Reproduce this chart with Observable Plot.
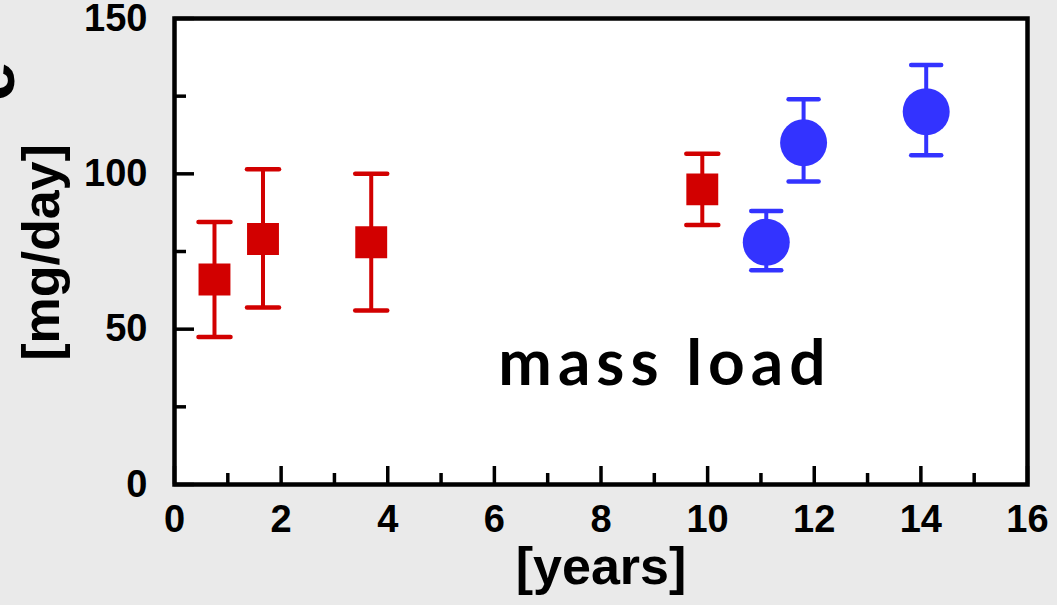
<!DOCTYPE html>
<html><head><meta charset="utf-8">
<script src="https://cdn.jsdelivr.net/npm/d3@7"></script>
<script src="https://cdn.jsdelivr.net/npm/@observablehq/plot@0.6"></script>
<style>html,body{margin:0;padding:0;background:#eaeaea;overflow:hidden;} #chart svg{display:block;} g[font-size="64"]{letter-spacing:6px;}</style>
</head><body><div id="chart"></div>
<script>
// Red series (squares)
const redYears = [0.75, 1.66, 3.69, 9.9];
const redValues = [66, 79, 78, 95];
const redLow = [47.5, 57, 56, 83.5];
const redHigh = [84.5, 101.5, 100, 106.5];
// Blue series (circles)
const blueYears = [11.1, 11.8, 14.1];
const blueValues = [78, 110, 120];
const blueLow = [69, 97.5, 106];
const blueHigh = [88, 124, 135];
// Axes
const xMajorTicks = [0, 2, 4, 6, 8, 10, 12, 14, 16];
const xMinorTicks = [1, 3, 5, 7, 9, 11, 13, 15];
const yMajorTicks = [0, 50, 100, 150];
const yMinorTicks = [25, 75, 125];
const xTitle = "[years]";
const yTitle = "[mg/day]";
const yTitleCut = "e";
const annotationText = ["mass load"];
const annotationX = [9.2];
const annotationY = [38.5];

const RED = "#d20000";
const BLUE = "#3333ff";
const FONT = "'Liberation Sans', Arial, sans-serif";

const red = redYears.map((x, i) => ({x, y: redValues[i], lo: redLow[i], hi: redHigh[i]}));
const blue = blueYears.map((x, i) => ({x, y: blueValues[i], lo: blueLow[i], hi: blueHigh[i]}));
const annot = annotationText.map((t, i) => ({t, x: annotationX[i], y: annotationY[i]}));

const capSymbol = {draw(ctx, size) { const r = Math.sqrt(size / Math.PI); ctx.moveTo(-r, 0); ctx.lineTo(r, 0); }};

function series(data, color, symbol, r, capR) {
  return [
    Plot.ruleX(data, {x: "x", y1: "lo", y2: "hi", stroke: color, strokeWidth: 4}),
    Plot.dot(data, {x: "x", y: "lo", r: capR, symbol: capSymbol, stroke: color, strokeWidth: 4.5, strokeLinecap: "round", fill: "none"}),
    Plot.dot(data, {x: "x", y: "hi", r: capR, symbol: capSymbol, stroke: color, strokeWidth: 4.5, strokeLinecap: "round", fill: "none"}),
    Plot.dot(data, {x: "x", y: "y", r, symbol, fill: color, stroke: "none"})
  ];
}

const chart = Plot.plot({
  width: 1057,
  height: 605,
  marginLeft: 174,
  marginRight: 30,
  marginTop: 18,
  marginBottom: 121,
  style: {background: "transparent", fontFamily: FONT, fontWeight: "bold", fontSize: "38px", color: "black"},
  x: {domain: [0, 16]},
  y: {domain: [0, 150]},
  marks: [
    Plot.frame({fill: "white"}),
    // inward ticks
    Plot.axisY({ticks: yMajorTicks, tickSize: 20, dx: 20, tickFormat: () => "", label: null, strokeWidth: 3.5}),
    Plot.axisY({ticks: yMinorTicks, tickSize: 12, dx: 12, tickFormat: () => "", label: null, strokeWidth: 3.5}),
    Plot.axisX({ticks: xMajorTicks, tickSize: 18, dy: -18, tickFormat: () => "", label: null, strokeWidth: 3.5}),
    Plot.axisX({ticks: xMinorTicks, tickSize: 11, dy: -11, tickFormat: () => "", label: null, strokeWidth: 3.5}),
    // tick labels
    Plot.axisY({ticks: yMajorTicks, tickSize: 0, tickPadding: 27, label: null, fontSize: 38, fontWeight: "bold"}),
    Plot.axisX({ticks: xMajorTicks, tickSize: 0, tickPadding: 21, label: null, fontSize: 38, fontWeight: "bold"}),
    Plot.frame({stroke: "black", strokeWidth: 4.5}),
    ...series(red, RED, "square", 18, 16),
    ...series(blue, BLUE, "circle", 23.5, 15),
    Plot.text(annot, {x: "x", y: "y", text: "t", fontFamily: "'Comic Sans MS', Lato, sans-serif", fontWeight: "bold", fontSize: 64, fill: "black"}),
    Plot.text([xTitle], {frameAnchor: "bottom", textAnchor: "middle", lineAnchor: "middle", dy: 83, fontSize: 52, fontWeight: "bold", fill: "black"}),
    Plot.text([yTitle], {frameAnchor: "left", textAnchor: "middle", lineAnchor: "middle", dx: -132, dy: 1, rotate: -90, fontSize: 52, fontWeight: "bold", fill: "black"}),
    Plot.text([yTitleCut], {frameAnchor: "top-left", textAnchor: "end", lineAnchor: "middle", dx: -184, dy: 43, rotate: -90, fontSize: 72, fontWeight: "bold", fill: "black"})
  ]
});
document.getElementById("chart").appendChild(chart);
</script>
</body></html>
